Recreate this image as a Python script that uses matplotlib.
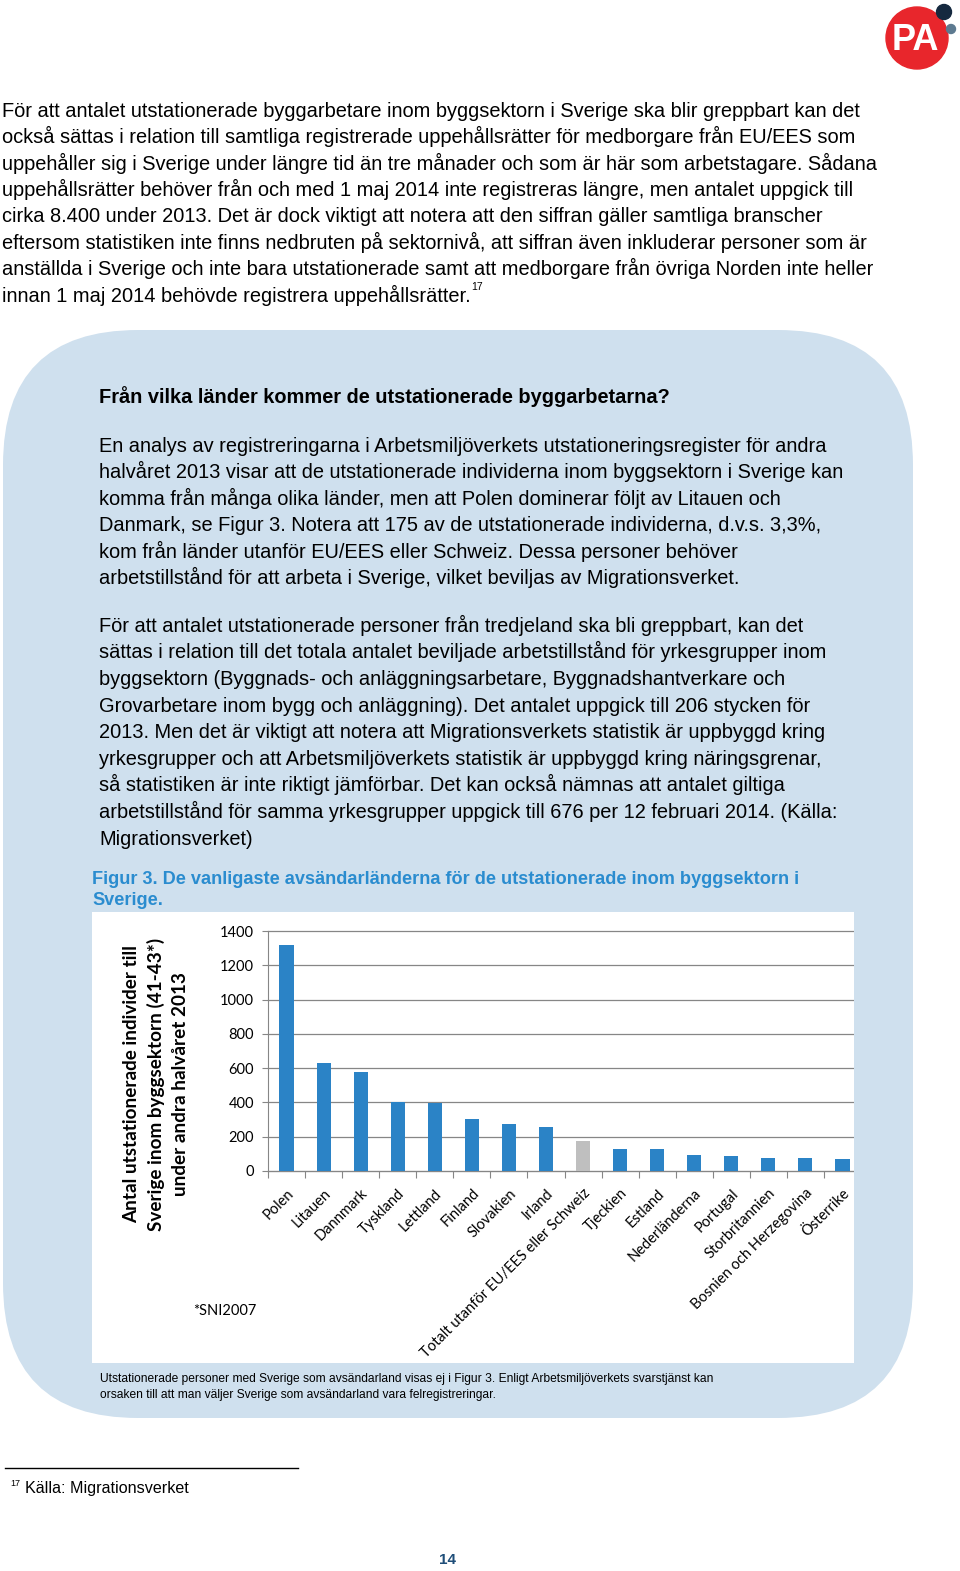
import numpy as np
import matplotlib
matplotlib.use("Agg")
import matplotlib.pyplot as plt
from matplotlib.patches import FancyBboxPatch, Rectangle, Circle

# chart data
countries = ["Polen", "Litauen", "Dannmark", "Tyskland", "Lettland", "Finland",
             "Slovakien", "Irland", "Totalt utanför EU/EES eller Schweiz",
             "Tjeckien", "Estland", "Nederländerna", "Portugal", "Storbritannien",
             "Bosnien och Herzegovina", "Österrike"]
counts = [1320, 631, 575, 404, 396, 305, 274, 256, 175, 130, 126, 95, 89, 78, 74, 70]
highlight = "Totalt utanför EU/EES eller Schweiz"
yticks = [0, 200, 400, 600, 800, 1000, 1200, 1400]

intro_lines = [
    "För att antalet utstationerade byggarbetare inom byggsektorn i Sverige ska blir greppbart kan det",
    "också sättas i relation till samtliga registrerade uppehållsrätter för medborgare från EU/EES som",
    "uppehåller sig i Sverige under längre tid än tre månader och som är här som arbetstagare. Sådana",
    "uppehållsrätter behöver från och med 1 maj 2014 inte registreras längre, men antalet uppgick till",
    "cirka 8.400 under 2013. Det är dock viktigt att notera att den siffran gäller samtliga branscher",
    "eftersom statistiken inte finns nedbruten på sektornivå, att siffran även inkluderar personer som är",
    "anställda i Sverige och inte bara utstationerade samt att medborgare från övriga Norden inte heller",
    "innan 1 maj 2014 behövde registrera uppehållsrätter.",
]
box_heading = "Från vilka länder kommer de utstationerade byggarbetarna?"
box_par1 = [
    "En analys av registreringarna i Arbetsmiljöverkets utstationeringsregister för andra",
    "halvåret 2013 visar att de utstationerade individerna inom byggsektorn i Sverige kan",
    "komma från många olika länder, men att Polen dominerar följt av Litauen och",
    "Danmark, se Figur 3. Notera att 175 av de utstationerade individerna, d.v.s. 3,3%,",
    "kom från länder utanför EU/EES eller Schweiz. Dessa personer behöver",
    "arbetstillstånd för att arbeta i Sverige, vilket beviljas av Migrationsverket.",
]
box_par2 = [
    "För att antalet utstationerade personer från tredjeland ska bli greppbart, kan det",
    "sättas i relation till det totala antalet beviljade arbetstillstånd för yrkesgrupper inom",
    "byggsektorn (Byggnads- och anläggningsarbetare, Byggnadshantverkare och",
    "Grovarbetare inom bygg och anläggning). Det antalet uppgick till 206 stycken för",
    "2013. Men det är viktigt att notera att Migrationsverkets statistik är uppbyggd kring",
    "yrkesgrupper och att Arbetsmiljöverkets statistik är uppbyggd kring näringsgrenar,",
    "så statistiken är inte riktigt jämförbar. Det kan också nämnas att antalet giltiga",
    "arbetstillstånd för samma yrkesgrupper uppgick till 676 per 12 februari 2014. (Källa:",
    "Migrationsverket)",
]
fig_title = ["Figur 3. De vanligaste avsändarländerna för de utstationerade inom byggsektorn i",
             "Sverige."]
ylabel_lines = "Antal utstationerade individer till\nSverige inom byggsektorn (41-43*)\nunder andra halvåret 2013"
caption = ["Utstationerade personer med Sverige som avsändarland visas ej i Figur 3. Enligt Arbetsmiljöverkets svarstjänst kan",
           "orsaken till att man väljer Sverige som avsändarland vara felregistreringar."]

W, H = 960, 1571
body = "Liberation Sans"
chartf = "Lato"
box_col = "#cfe0ee"
fs = 14.45

fig = plt.figure(figsize=(W / 100, H / 100), dpi=100)
bg = fig.add_axes([0, 0, 1, 1])
bg.set_xlim(0, W)
bg.set_ylim(H, 0)
bg.axis("off")

# logo
bg.add_patch(Circle((917, 38), 31, color="#e8262c", zorder=2))
bg.add_patch(Circle((944, 12), 7.5, color="#15293f", zorder=3))
bg.add_patch(Circle((951, 29), 4.5, color="#5d7a90", zorder=3))
bg.text(915, 40, "PA", color="white", fontsize=26, fontweight="bold", family=body,
        ha="center", va="center", zorder=4)

# intro paragraph
last = None
for i, line in enumerate(intro_lines):
    last = bg.text(2, 116.7 + 26.4 * i, line, fontsize=fs, family=body, va="baseline")
fig.canvas.draw()
bb = last.get_window_extent(fig.canvas.get_renderer())
end_x = bg.transData.inverted().transform((bb.x1, bb.y0))[0]
bg.text(end_x + 1, 290, "17", fontsize=7.5, family=body, va="baseline")

# rounded box
bg.add_patch(FancyBboxPatch((3, 330), 910, 1088, boxstyle="round,pad=0,rounding_size=135",
                            fc=box_col, ec="none", zorder=0))
bg.text(99, 403, box_heading, fontsize=fs, family=body, fontweight="bold", va="baseline")
for i, line in enumerate(box_par1):
    bg.text(99, 451.7 + 26.5 * i, line, fontsize=fs, family=body, va="baseline")
for i, line in enumerate(box_par2):
    bg.text(99, 631.7 + 26.6 * i, line, fontsize=fs, family=body, va="baseline")

for i, line in enumerate(fig_title):
    bg.text(92, 884 + 21 * i, line, fontsize=13.1, family=body, fontweight="bold",
            color="#2a8ccf", va="baseline")

# white chart area
white = Rectangle((92, 912), 762, 451, fc="white", ec="none", zorder=1)
bg.add_patch(white)
bg.text(156, 1084, ylabel_lines, rotation=90, fontsize=13.6, family=chartf, fontweight="bold",
        ha="center", va="center", multialignment="center", linespacing=1.45, zorder=2)
bg.text(193, 1311, "*SNI2007", fontsize=10.5, family=chartf, va="center", zorder=2)

for i, line in enumerate(caption):
    bg.text(100, 1382 + 16 * i, line, fontsize=8.66, family=body, va="baseline")

# footnote and page number
bg.plot([5, 298], [1468, 1468], color="black", lw=1)
bg.text(10, 1486, "17", fontsize=6.5, family=body, va="baseline")
bg.text(25, 1493, "Källa: Migrationsverket", fontsize=11.6, family=body, va="baseline")
bg.text(447, 1560, "14", fontsize=11, family=body, fontweight="bold", color="#1f4e79",
        ha="center", va="center")

# the bar chart
left, right, y0, y1 = 268, 861, 1171, 931
ax = fig.add_axes([left / W, (H - y0) / H, (right - left) / W, (y0 - y1) / H], zorder=3)
ax.patch.set_alpha(0)
x = np.arange(len(countries))
colors = ["#bfbfbf" if c == highlight else "#2b83c6" for c in countries]
ax.bar(x, counts, width=0.38, color=colors, zorder=3)
ax.set_xlim(-0.5, len(countries) - 0.5)
ax.set_ylim(0, 1400)
ax.set_yticks(yticks)
ax.set_yticklabels([str(v) for v in yticks], family=chartf, fontsize=10.5)
ax.yaxis.grid(True, color="#868686", lw=0.9)
ax.set_axisbelow(True)
for s in ["top", "right"]:
    ax.spines[s].set_visible(False)
for s in ["left", "bottom"]:
    ax.spines[s].set_color("#868686")
ax.tick_params(axis="y", length=4, color="#868686", pad=6)
ax.set_xticks(np.arange(-0.5, len(countries), 1))
ax.set_xticklabels([])
ax.set_xticks(x, minor=True)
ax.set_xticklabels(countries, minor=True, rotation=45, ha="right", va="top",
                   rotation_mode="anchor", family=chartf, fontsize=10.5)
ax.tick_params(axis="x", which="major", length=5, color="#868686")
ax.tick_params(axis="x", which="minor", length=0, pad=11)

# the chart picture is cut at the white area's right edge
for gl in ax.get_ygridlines():
    gl.set_clip_path(white)
ax.spines["bottom"].set_clip_path(white)
for t in ax.xaxis.get_major_ticks():
    t.tick1line.set_clip_path(white)

fig.savefig("out.png", dpi=100)
